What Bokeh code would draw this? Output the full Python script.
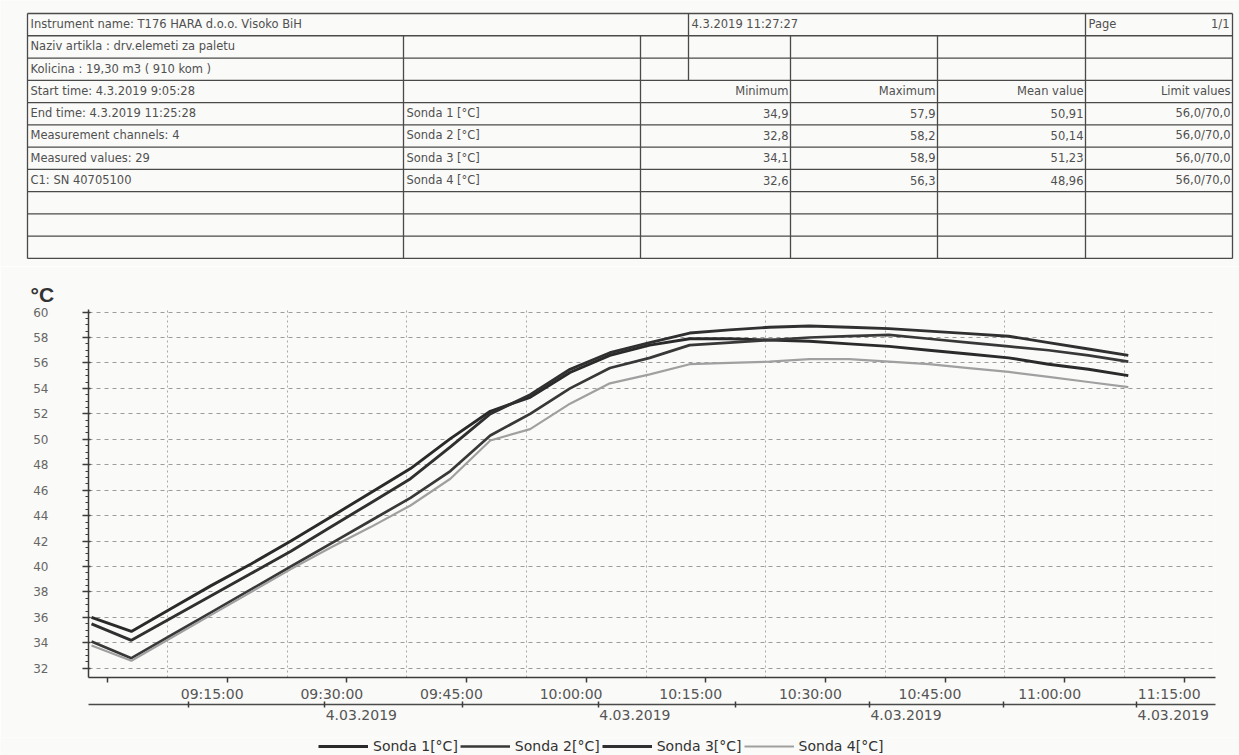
from bokeh.plotting import figure
from bokeh.models import Range1d, LinearAxis, FixedTicker, Legend, LegendItem, Grid
from bokeh.core.properties import value
from bokeh.embed import file_html
from bokeh.resources import INLINE

# ---------------- data ----------------
times = ["09:05:28", "09:10:28", "09:15:28", "09:20:28", "09:25:28", "09:30:28",
         "09:35:28", "09:40:28", "09:45:28", "09:50:28", "09:55:28", "10:00:28",
         "10:05:28", "10:10:28", "10:15:28", "10:20:28", "10:25:28", "10:30:28",
         "10:35:28", "10:40:28", "10:45:28", "10:50:28", "10:55:28", "11:00:28",
         "11:05:28", "11:10:28", "11:15:28"]
sonda1 = [36.0, 34.9, 36.7, 38.5, 40.2, 42.0, 43.9, 45.8, 47.7, 50.05, 52.2, 53.3,
          55.25, 56.6, 57.4, 57.9, 57.9, 57.8, 57.7, 57.5, 57.3, 57.0, 56.7, 56.4,
          55.9, 55.5, 55.0]
sonda2 = [34.1, 32.8, 34.6, 36.4, 38.2, 40.0, 41.8, 43.6, 45.4, 47.5, 50.3, 52.0,
          54.0, 55.6, 56.4, 57.4, 57.6, 57.8, 58.0, 58.1, 58.2, 57.9, 57.6, 57.3,
          57.0, 56.6, 56.1]
sonda3 = [35.5, 34.2, 35.95, 37.7, 39.45, 41.2, 43.1, 45.0, 46.9, 49.4, 52.0, 53.5,
          55.5, 56.8, 57.6, 58.35, 58.6, 58.8, 58.9, 58.8, 58.7, 58.5, 58.3, 58.1,
          57.6, 57.1, 56.6]
sonda4 = [33.8, 32.6, 34.4, 36.2, 38.0, 39.8, 41.5, 43.1, 44.8, 46.9, 49.9, 50.8,
          52.8, 54.4, 55.1, 55.9, 56.0, 56.1, 56.3, 56.3, 56.1, 55.9, 55.6, 55.3,
          54.9, 54.5, 54.1]
series_names = ["Sonda 1[°C]", "Sonda 2[°C]", "Sonda 3[°C]", "Sonda 4[°C]"]

y_ticks = [32, 34, 36, 38, 40, 42, 44, 46, 48, 50, 52, 54, 56, 58, 60]
x_tick_labels = ["09:15:00", "09:30:00", "09:45:00", "10:00:00", "10:15:00",
                 "10:30:00", "10:45:00", "11:00:00", "11:15:00"]
date_ticks = ["09:17:36", "09:34:42", "09:52:00", "10:09:00", "10:26:12",
              "10:43:00", "10:59:48", "11:16:30"]
date_label = "4.03.2019"

# table content
title_cell = "Instrument name: T176 HARA d.o.o. Visoko BiH"
print_date = "4.3.2019 11:27:27"
page_label = "Page"
page_value = "1/1"
info_lines = ["Naziv artikla : drv.elemeti za paletu",
              "Kolicina : 19,30 m3 ( 910 kom )",
              "Start time: 4.3.2019 9:05:28",
              "End time: 4.3.2019 11:25:28",
              "Measurement channels: 4",
              "Measured values: 29",
              "C1: SN 40705100"]
channel_names = ["Sonda 1 [°C]", "Sonda 2 [°C]", "Sonda 3 [°C]", "Sonda 4 [°C]"]
stat_headers = ["Minimum", "Maximum", "Mean value", "Limit values"]
minimum = ["34,9", "32,8", "34,1", "32,6"]
maximum = ["57,9", "58,2", "58,9", "56,3"]
mean_value = ["50,91", "50,14", "51,23", "48,96"]
limit_values = ["56,0/70,0", "56,0/70,0", "56,0/70,0", "56,0/70,0"]


def to_min(s):
    h, m, sec = (int(v) for v in s.split(":"))
    return (h - 9) * 60 + m + sec / 60.0


BG = "#fafaf8"
TXT = "#505050"
FONT = value("DejaVu Sans")
W = 1239

# ---------------- table figure ----------------
T_H = 266
tbl = figure(width=W, height=T_H, x_range=Range1d(0, W), y_range=Range1d(T_H, 0),
             x_axis_type=None, y_axis_type=None, output_backend="svg",
             toolbar_location=None, min_border=0)
tbl.grid.visible = False
tbl.outline_line_color = None
tbl.background_fill_color = BG
tbl.border_fill_color = BG

row_h = 22.27
rows = [13 + row_h * i for i in range(12)]
cols = [27, 403, 640, 688, 790, 937, 1085, 1232]
hx0, hy0, hx1, hy1 = [], [], [], []
for y in rows:
    hx0.append(cols[0]); hx1.append(cols[-1]); hy0.append(y); hy1.append(y)
tbl.segment(hx0, hy0, hx1, hy1, line_color="#4a4a4a", line_width=1.3)
vx, vy0, vy1 = [], [], []
for x, a, b in [(27, 0, 11), (403, 1, 11), (640, 1, 11), (688, 0, 3), (790, 1, 11),
                (937, 1, 11), (1085, 0, 11), (1232, 0, 11)]:
    vx.append(x); vy0.append(rows[a]); vy1.append(rows[b])
tbl.segment(vx, vy0, vx, vy1, line_color="#4a4a4a", line_width=1.3)


def rc(i):
    return (rows[i] + rows[i + 1]) / 2.0 - 0.5


fs = "11.5px"
lx, ly, lt = [], [], []
lx.append(30); ly.append(rc(0)); lt.append(title_cell)
lx.append(691); ly.append(rc(0)); lt.append(print_date)
lx.append(1088); ly.append(rc(0)); lt.append(page_label)
for i, s in enumerate(info_lines):
    lx.append(30); ly.append(rc(i + 1)); lt.append(s)
for i, s in enumerate(channel_names):
    lx.append(406); ly.append(rc(i + 4)); lt.append(s)
tbl.text(lx, ly, text=lt, text_font=FONT, text_font_size=fs, text_color=TXT,
         text_align="left", text_baseline="middle")
rx, ry, rt = [], [], []
rx.append(1229); ry.append(rc(0)); rt.append(page_value)
right_edges = [788, 935, 1083, 1230]
for j, h in enumerate(stat_headers):
    rx.append(right_edges[j]); ry.append(rc(3)); rt.append(h)
for j, colvals in enumerate([minimum, maximum, mean_value, limit_values]):
    for i, s in enumerate(colvals):
        rx.append(right_edges[j]); ry.append(rc(i + 4)); rt.append(s)
tbl.text(rx, ry, text=rt, text_font=FONT, text_font_size=fs, text_color=TXT,
         text_align="right", text_baseline="middle")

# ---------------- chart figure ----------------
L_H = 18
C_H = 755 - T_H - L_H
p = figure(width=W, height=C_H, x_range=Range1d(5.09, 146.4), y_range=Range1d(31.28, 60.2),
           x_axis_type=None, y_axis_type=None, output_backend="svg",
           toolbar_location=None, min_border_left=88, min_border_right=24,
           min_border_top=43, min_border_bottom=C_H - (677 - T_H))
p.background_fill_color = BG
p.border_fill_color = BG
p.outline_line_color = None

p.title.text = "°C"
p.title.text_font = "Liberation Sans"
p.title.text_font_size = "21px"
p.title.text_font_style = "bold"
p.title.text_color = "#333333"
p.title.align = "left"
p.title.offset = -58
p.title.standoff = 7

xs = [to_min(t) for t in times]
major_x = [to_min(s) for s in x_tick_labels]
minor_x = [m - 7.5 for m in major_x] + [major_x[-1] + 7.5]

p.add_layout(Grid(dimension=0, ticker=FixedTicker(ticks=major_x), grid_line_color="#a8a8a8",
                  grid_line_dash="2 3", grid_line_width=1))
p.add_layout(Grid(dimension=1, ticker=FixedTicker(ticks=y_ticks), grid_line_color="#9c9c9c",
                  grid_line_dash="4 4", grid_line_width=1))

y_minor = [32 + 0.5 * k for k in range(57)]
yaxis = LinearAxis(ticker=FixedTicker(ticks=y_ticks, minor_ticks=y_minor),
                   axis_line_color="#3c3c3c", axis_line_width=1.5,
                   major_tick_out=6, major_tick_in=2, major_tick_line_color="#3c3c3c",
                   major_tick_line_width=1.5,
                   minor_tick_out=3, minor_tick_in=0, minor_tick_line_color="#3c3c3c",
                   major_label_standoff=34, major_label_text_font="DejaVu Sans",
                   major_label_text_font_size="12px", major_label_text_color="#666666")
p.add_layout(yaxis, "left")

label_off = 5.6
label_pos = [m + label_off for m in major_x]
xaxis = LinearAxis(ticker=FixedTicker(ticks=label_pos, minor_ticks=minor_x),
                   major_label_overrides={k: lab for k, lab in zip(label_pos, x_tick_labels)},
                   axis_line_color="#3c3c3c", axis_line_width=1.5,
                   major_tick_out=5, major_tick_in=0, major_tick_line_color=None,
                   minor_tick_out=5, minor_tick_in=0, minor_tick_line_color="#3c3c3c",
                   minor_tick_line_width=1.5,
                   major_label_standoff=3, major_label_text_font="DejaVu Sans",
                   major_label_text_font_size="14px", major_label_text_color="#555555")
p.add_layout(xaxis, "below")

d_ticks = [to_min(s) for s in date_ticks]
d_lab_src = d_ticks[1::2]
d_label_pos = [m + 4.6 for m in d_lab_src]
daxis = LinearAxis(ticker=FixedTicker(ticks=d_label_pos, minor_ticks=d_ticks),
                   major_label_overrides={k: date_label for k in d_label_pos},
                   axis_line_color="#4a4a4a", axis_line_width=1.3,
                   major_tick_out=3, major_tick_in=0, major_tick_line_color=None,
                   minor_tick_out=3, minor_tick_in=3, minor_tick_line_color="#3c3c3c",
                   minor_tick_line_width=1.5,
                   major_label_standoff=2, major_label_text_font="DejaVu Sans",
                   major_label_text_font_size="14px", major_label_text_color="#555555")
p.add_layout(daxis, "below")

styles = [("#2a2a2a", 2.9), ("#383838", 2.7), ("#303030", 2.9), ("#a0a0a0", 2.2)]
all_series = [sonda1, sonda2, sonda3, sonda4]
for ys, (c, w) in zip(all_series, styles):
    p.line(xs, ys, line_color=c, line_width=w)

# ---------------- legend strip (same series, out of its visible range) ----------------
lg = figure(width=W, height=L_H, x_range=Range1d(0, 1), y_range=Range1d(0, 1),
            x_axis_type=None, y_axis_type=None, output_backend="svg",
            toolbar_location=None, min_border=0)
lg.outline_line_color = None
lg.background_fill_color = BG
lg.border_fill_color = BG
proxies = [lg.line(xs, ys, line_color=c, line_width=w) for ys, (c, w) in zip(all_series, styles)]
legend = Legend(items=[LegendItem(label=n, renderers=[r]) for n, r in zip(series_names, proxies)],
                orientation="horizontal", location=(318, 1), border_line_color=None,
                background_fill_alpha=0, glyph_width=50, glyph_height=16, label_height=16,
                label_standoff=5, spacing=2, padding=0, margin=0,
                label_text_font="DejaVu Sans", label_text_font_size="14px",
                label_text_color="#333333")
lg.add_layout(legend)

open("out.html", "w").write(file_html([tbl, p, lg], INLINE))
